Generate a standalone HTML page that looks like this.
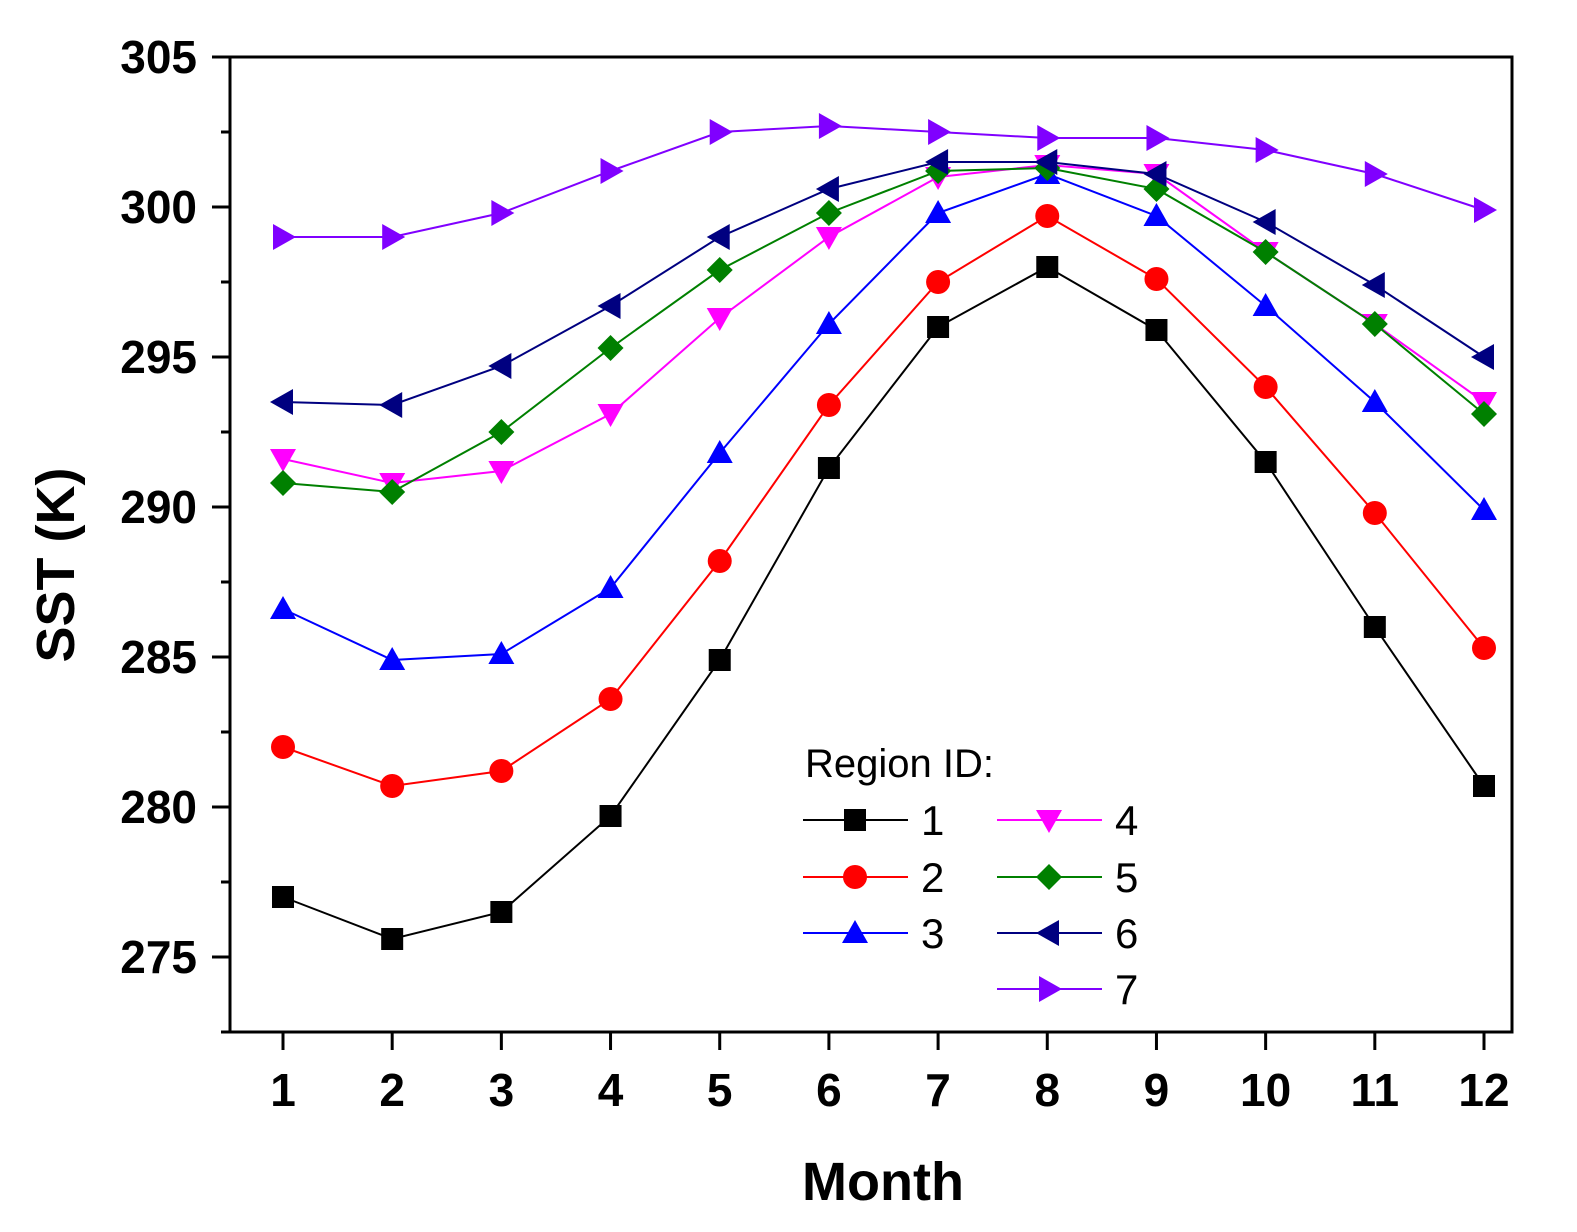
<!DOCTYPE html>
<html><head><meta charset="utf-8"><style>
body{margin:0;background:#fff}
svg text{font-family:"Liberation Sans",Arial,sans-serif}
</style></head><body>
<svg id="chart" width="1577" height="1227" viewBox="0 0 1577 1227" xmlns="http://www.w3.org/2000/svg">
<g id="grid"></g>
<g id="series"></g>
<g id="legend"></g>
</svg>
<script>
const months=[1,2,3,4,5,6,7,8,9,10,11,12];
const yTicks=[275,280,285,290,295,300,305];
const s1=[277.0,275.6,276.5,279.7,284.9,291.3,296.0,298.0,295.9,291.5,286.0,280.7];
const s2=[282.0,280.7,281.2,283.6,288.2,293.4,297.5,299.7,297.6,294.0,289.8,285.3];
const s3=[286.6,284.9,285.1,287.3,291.8,296.1,299.8,301.1,299.7,296.7,293.5,289.9];
const s4=[291.6,290.8,291.2,293.1,296.3,299.0,301.0,301.4,301.1,298.5,296.1,293.5];
const s5=[290.8,290.5,292.5,295.3,297.9,299.8,301.2,301.3,300.6,298.5,296.1,293.1];
const s6=[293.5,293.4,294.7,296.7,299.0,300.6,301.5,301.5,301.1,299.5,297.4,295.0];
const s7=[299.0,299.0,299.8,301.2,302.5,302.7,302.5,302.3,302.3,301.9,301.1,299.9];
const seriesNames=["1","2","3","4","5","6","7"];
const NS="http://www.w3.org/2000/svg";
const X=m=>283+(m-1)*(1484-283)/11;
const Y=v=>57+(305-v)*30;
function el(t,a,p){const e=document.createElementNS(NS,t);for(const k in a)e.setAttribute(k,a[k]);p.appendChild(e);return e;}
const g=document.getElementById('grid');
const frame=el('rect',{x:230,y:57,width:1282,height:975,fill:'none',stroke:'#000','stroke-width':3},g);


yTicks.forEach(v=>{
  el('line',{x1:212,x2:230,y1:Y(v),y2:Y(v),stroke:'#000','stroke-width':3},g);
  el('line',{x1:221,x2:230,y1:Y(v-2.5),y2:Y(v-2.5),stroke:'#000','stroke-width':3},g);
  const t=el('text',{x:197,y:Y(v)+16,'text-anchor':'end','font-size':46,'font-weight':'bold'},g);
  t.textContent=v;
  
  
});
months.forEach(m=>{
  el('line',{x1:X(m),x2:X(m),y1:1032,y2:1050,stroke:'#000','stroke-width':3},g);
  const t=el('text',{x:X(m),y:1106,'text-anchor':'middle','font-size':46,'font-weight':'bold'},g);
  t.textContent=m;
  
  
});
const xt=el('text',{x:883,y:1200,'text-anchor':'middle','font-size':54,'font-weight':'bold'},g);
xt.textContent='Month';


const yt=el('text',{x:74,y:565,'text-anchor':'middle','font-size':54,'font-weight':'bold',transform:'rotate(-90 74 565)'},g);
yt.textContent='SST (K)';



const data=[s1,s2,s3,s4,s5,s6,s7];
const colors=['#000','#f00','#00f','#f0f','#008000','#000080','#8000ff'];
const shapes=['square','circle','up','down','diamond','left','right'];
function marker(shape,x,y,c,p){
  const r=12;let e;
  if(shape==='square')e=el('rect',{x:x-r+1,y:y-r+1,width:2*r-2,height:2*r-2,fill:c},p);
  else if(shape==='circle')e=el('circle',{cx:x,cy:y,r:r,fill:c},p);
  else{let pts;
    if(shape==='up')pts=[[x,y-r-1],[x+r+1,y+r-2],[x-r-1,y+r-2]];
    if(shape==='down')pts=[[x,y+r+1],[x+r+1,y-r+2],[x-r-1,y-r+2]];
    if(shape==='left')pts=[[x-r-1,y],[x+r-2,y-r-1],[x+r-2,y+r+1]];
    if(shape==='right')pts=[[x+r+1,y],[x-r+2,y-r-1],[x-r+2,y+r+1]];
    if(shape==='diamond')pts=[[x,y-r-1],[x+r+1,y],[x,y+r+1],[x-r-1,y]];
    e=el('polygon',{points:pts.map(q=>q.join(',')).join(' '),fill:c},p);}
  return e;
}
const sg=document.getElementById('series');
data.forEach((d,i)=>{
  const grp=el('g',{},sg);
  
  
  el('polyline',{points:d.map((v,j)=>X(months[j])+','+Y(v)).join(' '),fill:'none',stroke:colors[i],'stroke-width':2},grp);
  d.forEach((v,j)=>{
    const m=marker(shapes[i],X(months[j]),Y(v),colors[i],grp);
    
    
  });
});
const lg=document.getElementById('legend');


const lt=el('text',{x:805,y:777,'font-size':40},lg);
lt.textContent='Region ID:';
const rows=[820,877,933,989];
data.forEach((d,i)=>{
  const col=i<3?0:1,row=i<3?i:i-3;
  const x0=col?997:803,y=rows[row];
  const e=el('g',{},lg);
  
  
  el('line',{x1:x0,x2:x0+105,y1:y,y2:y,stroke:colors[i],'stroke-width':2},e);
  marker(shapes[i],x0+52,y,colors[i],e);
  const t=el('text',{x:x0+118,y:y+15,'font-size':42},e);
  t.textContent=seriesNames[i];
});
</script>
</body></html>
